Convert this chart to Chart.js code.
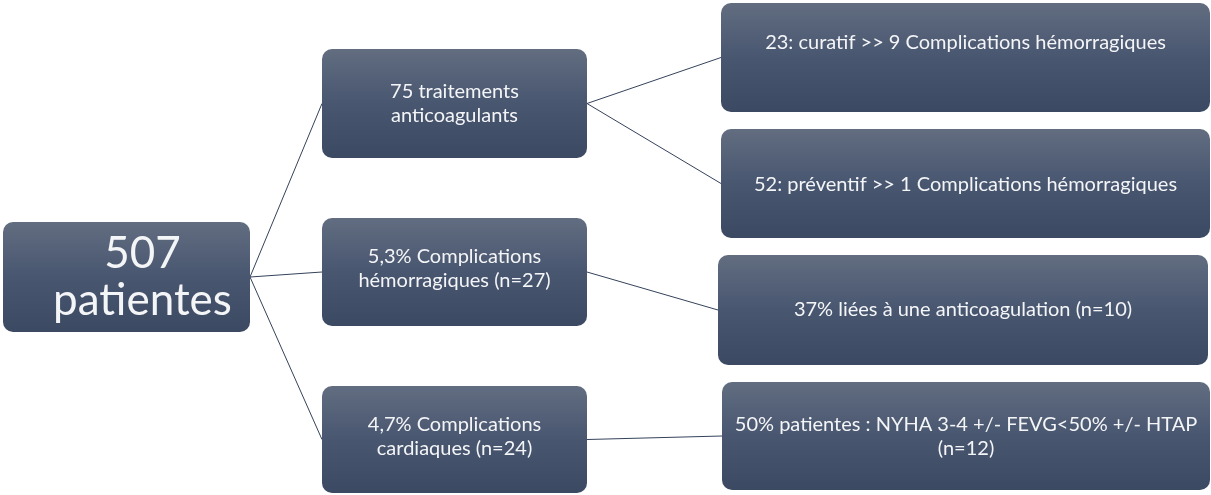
<!DOCTYPE html>
<html>
<head>
<meta charset="utf-8">
<script src="https://cdn.jsdelivr.net/npm/chart.js@4.4.1/dist/chart.umd.min.js"></script>
<style>
  html, body { margin: 0; padding: 0; background: #ffffff; }
  #wrap { width: 1211px; height: 495px; }
</style>
</head>
<body>
<div id="wrap"><canvas id="c" width="1211" height="495"></canvas></div>
<script>
// ---- Data (text content of the tree) ----
const rootLabel = ['507', 'patientes'];
const level1Labels = [
  ['75 traitements', 'anticoagulants'],
  ['5,3% Complications', 'hémorragiques (n=27)'],
  ['4,7% Complications', 'cardiaques (n=24)']
];
const level2Labels = [
  ['23: curatif >> 9 Complications hémorragiques'],
  ['52: préventif >> 1 Complications hémorragiques'],
  ['37% liées à une anticoagulation (n=10)'],
  ['50% patientes : NYHA 3-4 +/- FEVG<50% +/- HTAP', '(n=12)']
];
const level2Parent = [0, 0, 1, 2];

// ---- Layout (axis units, kept apart from data) ----
const rootBox = { x0: 3, x1: 250, y0: 222, y1: 332, font: 44, lh: 47, dx: 16, dy: 0 };
const level1Boxes = [
  { x0: 322, x1: 587, y0: 49, y1: 158, font: 20, lh: 24, dx: 0, dy: 0 },
  { x0: 322, x1: 587, y0: 218, y1: 326, font: 20, lh: 24, dx: 0, dy: -3 },
  { x0: 322, x1: 587, y0: 386, y1: 493, font: 20, lh: 24, dx: 0, dy: -3 }
];
const level2Boxes = [
  { x0: 721, x1: 1210, y0: 3, y1: 112, font: 20, lh: 24, dx: 0, dy: -15 },
  { x0: 721, x1: 1210, y0: 129, y1: 238, font: 20, lh: 24, dx: 0, dy: 1 },
  { x0: 718, x1: 1208, y0: 255, y1: 365, font: 20, lh: 24, dx: 0, dy: 0 },
  { x0: 722, x1: 1210, y0: 382, y1: 490, font: 20, lh: 24, dx: 0, dy: 1 }
];

const FONT = 'Lato, "Open Sans", sans-serif';
const LINE_COLOR = '#34425a';

function midRight(b) { return { x: b.x1, y: (b.y0 + b.y1) / 2 }; }
function midLeft(b) { return { x: b.x0, y: (b.y0 + b.y1) / 2 }; }

// connector datasets built from layout
const datasets = [];
level1Boxes.forEach(b => {
  datasets.push({ data: [midRight(rootBox), midLeft(b)] });
});
level2Boxes.forEach((b, i) => {
  datasets.push({ data: [midRight(level1Boxes[level2Parent[i]]), midLeft(b)] });
});
datasets.forEach(d => {
  d.showLine = true;
  d.borderColor = LINE_COLOR;
  d.borderWidth = 1;
  d.pointRadius = 0;
  d.fill = false;
});

const boxPlugin = {
  id: 'boxes',
  afterDatasetsDraw(chart) {
    const ctx = chart.ctx;
    const xs = chart.scales.x, ys = chart.scales.y;
    const all = [[rootBox, rootLabel]]
      .concat(level1Boxes.map((b, i) => [b, level1Labels[i]]))
      .concat(level2Boxes.map((b, i) => [b, level2Labels[i]]));
    all.forEach(([b, lines]) => {
      const x0 = xs.getPixelForValue(b.x0), x1 = xs.getPixelForValue(b.x1);
      const y0 = ys.getPixelForValue(b.y0), y1 = ys.getPixelForValue(b.y1);
      const top = Math.min(y0, y1), bot = Math.max(y0, y1);
      const g = ctx.createLinearGradient(0, top, 0, bot);
      g.addColorStop(0, '#626d80');
      g.addColorStop(0.5, '#485670');
      g.addColorStop(1, '#3b4962');
      ctx.save();
      ctx.beginPath();
      ctx.roundRect(x0, top, x1 - x0, bot - top, 10);
      ctx.fillStyle = g;
      ctx.fill();
      ctx.fillStyle = '#f4f5f7';
      ctx.font = b.font + 'px ' + FONT;
      ctx.textAlign = 'center';
      ctx.textBaseline = 'middle';
      const cx = (x0 + x1) / 2 + b.dx;
      const cy = (top + bot) / 2 + b.dy;
      const n = lines.length;
      lines.forEach((t, k) => {
        ctx.fillText(t, cx, cy + (k - (n - 1) / 2) * b.lh);
      });
      ctx.restore();
    });
  }
};

new Chart(document.getElementById('c'), {
  type: 'scatter',
  data: { datasets },
  options: {
    responsive: false,
    animation: false,
    layout: { padding: 0 },
    plugins: { legend: { display: false }, tooltip: { enabled: false } },
    scales: {
      x: { type: 'linear', min: 0, max: 1211, display: false },
      y: { type: 'linear', min: 0, max: 495, reverse: true, display: false }
    }
  },
  plugins: [boxPlugin]
});
</script>
</body>
</html>
